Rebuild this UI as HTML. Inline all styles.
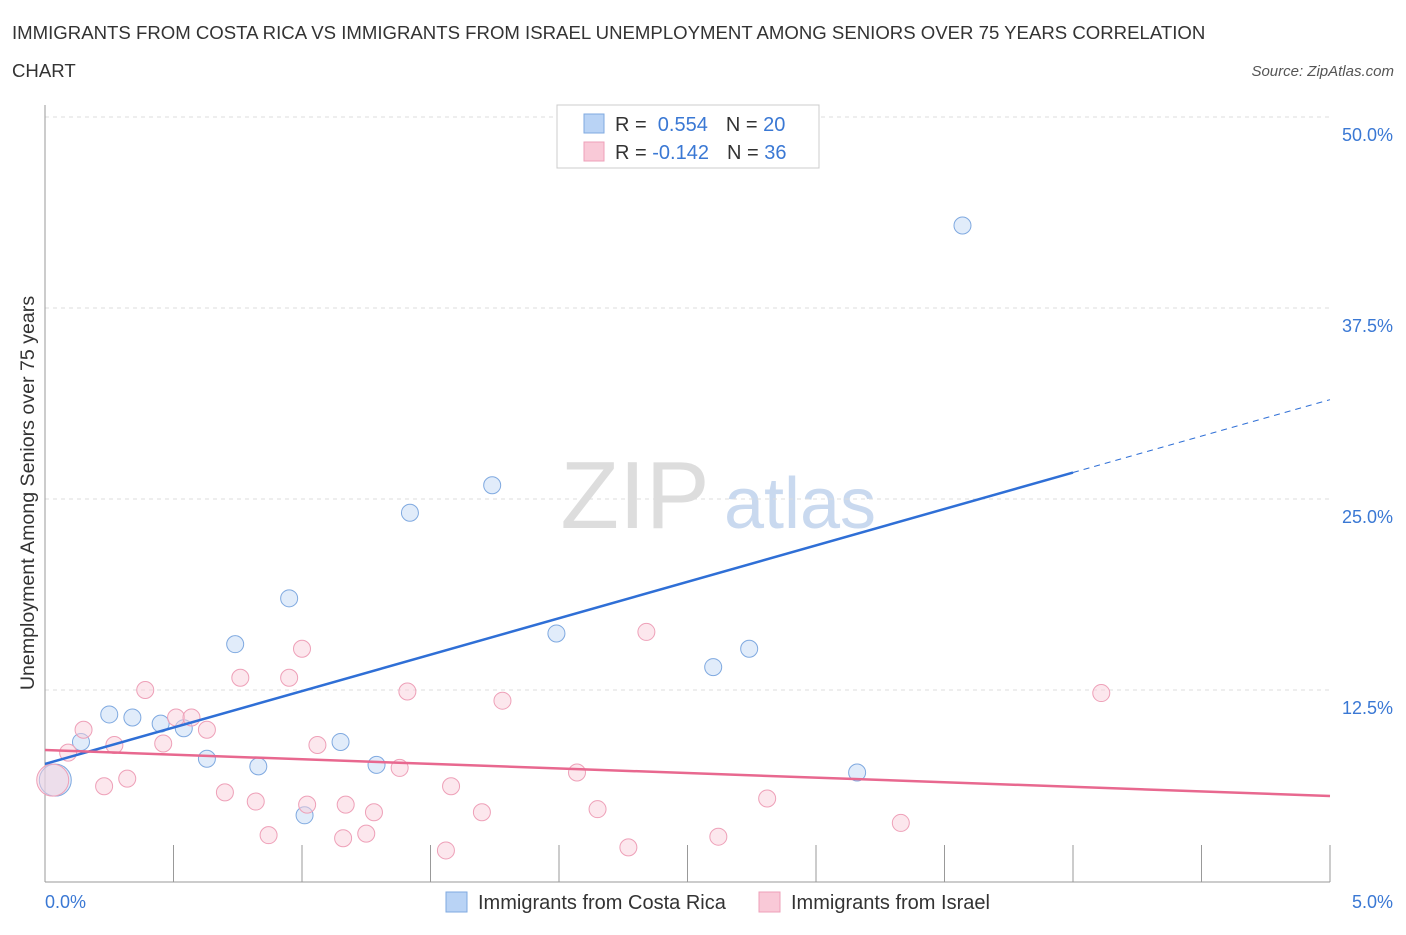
<!DOCTYPE html>
<html><head><meta charset="utf-8"><style>
body{margin:0;background:#fff;font-family:"Liberation Sans",sans-serif;}
svg text{font-family:"Liberation Sans",sans-serif;}
</style></head><body>
<svg id="c" width="1406" height="930">
<text x="12" y="39" font-size="18.6" fill="#333">IMMIGRANTS FROM COSTA RICA VS IMMIGRANTS FROM ISRAEL UNEMPLOYMENT AMONG SENIORS OVER 75 YEARS CORRELATION</text>
<text x="12" y="77" font-size="18.6" fill="#333">CHART</text>
<text x="1394" y="76" font-size="15" fill="#555" font-style="italic" text-anchor="end">Source: ZipAtlas.com</text>
<text x="635" y="528" font-size="96" fill="#ddd" font-family="Liberation Serif,serif" text-anchor="middle">ZIP</text>
<text x="800" y="528" font-size="72" fill="#c9d9ef" text-anchor="middle">atlas</text>
<text transform="translate(34,493) rotate(-90)" font-size="19.6" fill="#333" text-anchor="middle">Unemployment Among Seniors over 75 years</text>
<g id="grid"></g><g id="pts"></g>
<g>
<rect x="557" y="105" width="262" height="63" fill="#fff" stroke="#ccc"/>
<rect x="584" y="114" width="20" height="19" fill="#b9d3f5" stroke="#7fa9e0"/>
<rect x="584" y="142" width="20" height="19" fill="#f9c9d7" stroke="#eea0b8"/>
<text x="615" y="131" font-size="20" fill="#333">R = <tspan fill="#3a78d4">&#160;0.554</tspan><tspan dx="18" fill="#333">N = </tspan><tspan fill="#3a78d4">20</tspan></text>
<text x="615" y="159" font-size="20" fill="#333">R = <tspan fill="#3a78d4">-0.142</tspan><tspan dx="18" fill="#333">N = </tspan><tspan fill="#3a78d4">36</tspan></text>
</g>
<g>
<rect x="446" y="892" width="21" height="20" fill="#b9d3f5" stroke="#7fa9e0"/>
<text x="478" y="909" font-size="20" fill="#333">Immigrants from Costa Rica</text>
<rect x="759" y="892" width="21" height="20" fill="#f9c9d7" stroke="#eea0b8"/>
<text x="791" y="909" font-size="20" fill="#333">Immigrants from Israel</text>
</g>
</svg>
<script>
const blueX=[0.04,0.14,0.25,0.34,0.45,0.54,0.63,0.74,0.83,0.95,1.01,1.15,1.29,1.42,1.74,1.99,2.60,2.74,3.16,3.57];
const blueY=[6.6,9.1,10.9,10.7,10.3,10.0,8.0,15.5,7.5,18.5,4.3,9.1,7.6,24.1,25.9,16.2,14.0,15.2,7.1,42.9];
const pinkX=[0.03,0.09,0.15,0.23,0.27,0.32,0.39,0.46,0.51,0.57,0.63,0.70,0.76,0.82,0.87,0.95,1.00,1.02,1.06,1.16,1.17,1.25,1.28,1.38,1.41,1.56,1.58,1.70,1.78,2.07,2.15,2.27,2.34,2.62,2.81,3.33,4.11];
const pinkY=[6.6,8.4,9.9,6.2,8.9,6.7,12.5,9.0,10.7,10.7,9.9,5.8,13.3,5.2,3.0,13.3,15.2,5.0,8.9,2.8,5.0,3.1,4.5,7.4,12.4,2.0,6.2,4.5,11.8,7.1,4.7,2.2,16.3,2.9,5.4,3.8,12.3];
const blueTrend=[7.66,31.5];
const pinkTrend=[8.57,5.56];
const yTicks=[12.5,25,37.5,50];
const xTicks=[0,0.5,1,1.5,2,2.5,3,3.5,4,4.5,5];
const sx=v=>45+v*257, sy=v=>881-v*15.28;
const NS="http://www.w3.org/2000/svg";
function mk(p,t,a){const e=document.createElementNS(NS,t);for(const k in a)e.setAttribute(k,a[k]);p.appendChild(e);return e;}
const g=document.getElementById('grid'),P=document.getElementById('pts');
yTicks.forEach(v=>{const l=mk(g,'line',{x1:45,x2:1330,y1:sy(v),y2:sy(v),stroke:'#ddd','stroke-dasharray':'4,4'});


const t=mk(g,'text',{x:1393,y:sy(v)+24,'font-size':18,fill:'#3a78d4','text-anchor':'end'});t.textContent=v.toFixed(1)+'%';

});
mk(g,'line',{x1:45,x2:1330,y1:117,y2:117,stroke:'#ddd','stroke-dasharray':'4,4'});
mk(g,'line',{x1:45,x2:45,y1:105,y2:882,stroke:'#999'});
mk(g,'line',{x1:45,x2:1330,y1:882,y2:882,stroke:'#999'});
xTicks.forEach(v=>{const l=mk(g,'line',{x1:sx(v),x2:sx(v),y1:845,y2:882,stroke:'#999'});

});
[[0,'0.0%',45,'start'],[5,'5.0%',1393,'end']].forEach(a=>{const t=mk(g,'text',{x:a[2],y:908,'font-size':18,fill:'#3a78d4','text-anchor':a[3]});t.textContent=a[1];

});
function dots(X,Y,f,s,name){X.forEach((x,i)=>{const c=mk(P,'circle',{cx:sx(x),cy:sy(Y[i]),r:i==0?16:8.5,fill:f,'fill-opacity':0.5,stroke:s});

});}
dots(blueX,blueY,'#c4d9f5','#7fa9e0','costa-rica-point');
dots(pinkX,pinkY,'#f9d0dc','#eea0b8','israel-point');
const bl=mk(P,'line',{x1:sx(0),y1:sy(blueTrend[0]),x2:sx(4),y2:sy(blueTrend[0]+(blueTrend[1]-blueTrend[0])*0.8),stroke:'#2f6fd6','stroke-width':2.5});


const bd=mk(P,'line',{x1:sx(4),y1:sy(blueTrend[0]+(blueTrend[1]-blueTrend[0])*0.8),x2:sx(5),y2:sy(blueTrend[1]),stroke:'#2f6fd6','stroke-width':1,'stroke-dasharray':'6,5'});


const pl=mk(P,'line',{x1:sx(0),y1:sy(pinkTrend[0]),x2:sx(5),y2:sy(pinkTrend[1]),stroke:'#e8688f','stroke-width':2.5});


</script>
</body></html>
